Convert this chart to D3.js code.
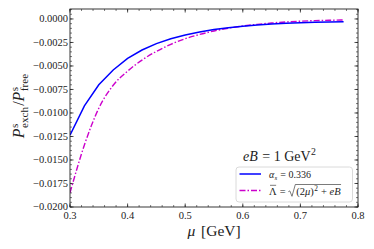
<!DOCTYPE html>
<html><head><meta charset="utf-8">
<script src="https://cdn.jsdelivr.net/npm/d3@7"></script>
<style>body{margin:0;background:#fff}svg{display:block}text{font-family:"Liberation Serif","DejaVu Serif",serif;fill:#222;white-space:pre}</style>
</head><body><div id="c"></div>
<script>
const mu = [0.300,0.325,0.350,0.375,0.400,0.425,0.450,0.475,0.500,0.525,0.550,0.575,0.600,0.625,0.650,0.675,0.700,0.725,0.750,0.775];
const alphaFixed = [-0.01235,-0.00925,-0.00700,-0.00543,-0.00420,-0.00330,-0.00262,-0.00210,-0.00170,-0.00138,-0.00113,-0.00093,-0.00077,-0.00064,-0.00054,-0.00046,-0.00040,-0.00035,-0.00032,-0.00029];
const lambdaRun = [-0.01850,-0.01340,-0.00950,-0.00705,-0.00555,-0.00437,-0.00345,-0.00270,-0.00210,-0.00165,-0.00128,-0.00098,-0.00075,-0.00057,-0.00043,-0.00032,-0.00024,-0.00018,-0.00014,-0.00011];
const xTicks = [0.3,0.4,0.5,0.6,0.7,0.8];
const yTicks = [-0.0200,-0.0175,-0.0150,-0.0125,-0.0100,-0.0075,-0.0050,-0.0025,0.0000];

const W=374,H=249;
const L=70,R=358,T=9,B=207;
const svg=d3.select("#c").append("svg").attr("width",W).attr("height",H);
const x=d3.scaleLinear().domain([0.3,0.8]).range([L,R]);
const y=d3.scaleLinear().domain([-0.02,0.00106]).range([B,T]);

const fmtY=v=>(v<0?"\u2212":"")+Math.abs(v).toFixed(4);
const tcol="#222";
const xMinor=d3.range(0.3,0.8001,0.02).map(v=>+v.toFixed(3));
const yMinor=d3.range(-0.02,0.00101,0.0005).map(v=>+v.toFixed(5));
const ax=svg.append("g");
function ticksX(vals,len,w){vals.forEach(v=>{const px=x(v);
 ax.append("line").attr("x1",px).attr("x2",px).attr("y1",B).attr("y2",B-len).attr("stroke",tcol).attr("stroke-width",w);
 ax.append("line").attr("x1",px).attr("x2",px).attr("y1",T).attr("y2",T+len).attr("stroke",tcol).attr("stroke-width",w);});}
function ticksY(vals,len,w){vals.forEach(v=>{const py=y(v);
 ax.append("line").attr("y1",py).attr("y2",py).attr("x1",L).attr("x2",L+len).attr("stroke",tcol).attr("stroke-width",w);
 ax.append("line").attr("y1",py).attr("y2",py).attr("x1",R).attr("x2",R-len).attr("stroke",tcol).attr("stroke-width",w);});}
ticksX(xMinor,2,0.6);ticksY(yMinor,2,0.6);
ticksX(xTicks,3.5,0.8);ticksY(yTicks,3.5,0.8);
xTicks.forEach(v=>svg.append("text").attr("x",x(v)).attr("y",219).attr("text-anchor","middle").attr("font-size",10.5).text(v.toFixed(1)));
yTicks.forEach(v=>svg.append("text").attr("x",68).attr("y",y(v)+3.2).attr("text-anchor","end").attr("font-size",10.5).text(fmtY(v)));

svg.append("clipPath").attr("id","cp").append("rect").attr("x",L).attr("y",T).attr("width",R-L).attr("height",B-T);
const line=d3.line().x(d=>x(d[0])).y(d=>y(d[1])).curve(d3.curveMonotoneX);
svg.append("path").datum(mu.map((m,i)=>[m,lambdaRun[i]])).attr("d",line).attr("fill","none").attr("stroke","#cc00cc").attr("stroke-width",1.4).attr("stroke-dasharray","6,2,1.5,2").attr("clip-path","url(#cp)");
svg.append("path").datum(mu.map((m,i)=>[m,alphaFixed[i]])).attr("d",d3.line().x(d=>x(d[0])).y(d=>y(d[1]))).attr("fill","none").attr("stroke","#0000ff").attr("stroke-width",1.5).attr("clip-path","url(#cp)");

svg.append("rect").attr("x",L).attr("y",T).attr("width",R-L).attr("height",B-T).attr("fill","none").attr("stroke",tcol).attr("stroke-width",0.9);

function mathRow(g,parts,base){
 let cx=0,prevStart=0,pos=[];
 parts.forEach(p=>{
  const fs=base*(p.s||1);
  const start=p.stack?prevStart:cx+(p.dx||0);
  const t=g.append("text").attr("x",start).attr("y",p.dy||0).attr("font-size",fs).attr("font-style",p.it?"italic":"normal").text(p.t);
  const w=t.node().getComputedTextLength();
  pos.push({x:start,w:w,fs:fs});
  if(!p.stack)prevStart=start;
  cx=Math.max(cx,start+w);
 });
 return {w:cx,pos:pos};
}

// y label
const yl=svg.append("g").attr("transform","translate(24,106) rotate(-90)");
const yli=yl.append("g");
const ylr=mathRow(yli,[{t:"P",it:1},{t:"s",s:0.7,dy:-6.5,dx:0.5},{t:"exch",s:0.7,dy:3.8,stack:1},{t:"/",dx:1},{t:"P",it:1},{t:"s",s:0.7,dy:-6.5,dx:0.5},{t:"free",s:0.7,dy:3.8,stack:1}],16);
yli.attr("transform",`translate(${-ylr.w/2},0)`);

// x label
const xl=svg.append("g").attr("transform","translate(214,236)");
const xli=xl.append("g");
const xlr=mathRow(xli,[{t:"\u03bc",it:1},{t:" [GeV]",dx:2}],15.5);
xli.attr("transform",`translate(${-xlr.w/2},0)`);

// eB annotation
const an=svg.append("g").attr("transform","translate(243,161)");
mathRow(an,[{t:"eB",it:1},{t:" = 1 GeV",dx:1},{t:"2",s:0.7,dy:-6,dx:0.5}],14);

// legend
svg.append("rect").attr("x",236).attr("y",167).attr("width",116.5).attr("height",35).attr("rx",3).attr("fill","#fff").attr("fill-opacity",0.85).attr("stroke","#d0d0d0").attr("stroke-width",0.8);
svg.append("line").attr("x1",239.5).attr("x2",261).attr("y1",174).attr("y2",174).attr("stroke","#0000ff").attr("stroke-width",1.5);
svg.append("line").attr("x1",239.5).attr("x2",261).attr("y1",190.5).attr("y2",190.5).attr("stroke","#cc00cc").attr("stroke-width",1.4).attr("stroke-dasharray","6,2,1.5,2");
const l1=svg.append("g").attr("transform","translate(269,177.5)");
mathRow(l1,[{t:"\u03b1",it:1},{t:"s",it:1,s:0.7,dy:2,dx:0.3},{t:" = 0.336",dx:0.5}],10);
const l2=svg.append("g").attr("transform","translate(269,194.5)");
const r2=mathRow(l2,[{t:"\u039b"},{t:" = ",dx:0.5},{t:"(2",dx:8},{t:"\u03bc",it:1},{t:")"},{t:"2",s:0.7,dy:-3.8,dx:0.3},{t:" + ",dx:0.5},{t:"eB",it:1}],10.5);
const pl=r2.pos[0];
l2.append("line").attr("x1",pl.x+1).attr("x2",pl.x+pl.w-0.5).attr("y1",-9.2).attr("y2",-9.2).attr("stroke","#222").attr("stroke-width",0.6);
const ps=r2.pos[2].x-8,pe=r2.w+0.5;
l2.append("path").attr("d",`M${ps},-2.8 L${ps+1.5},-3.6 L${ps+3.7},1.8 L${ps+7},-10 L${pe},-10`).attr("fill","none").attr("stroke","#222").attr("stroke-width",0.6);
</script></body></html>
